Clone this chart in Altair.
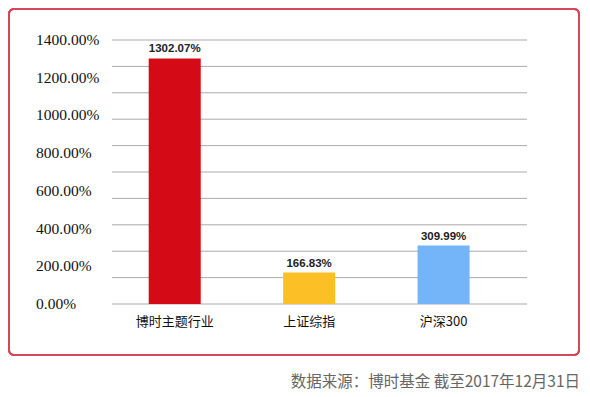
import altair as alt
import pandas as pd

categories = ["博时主题行业", "上证综指", "沪深300"]
values = [1302.07, 166.83, 309.99]
labels = ["1302.07%", "166.83%", "309.99%"]
colors = ["#d40a16", "#fdbf26", "#74b4f9"]
y_ticks = [0, 200, 400, 600, 800, 1000, 1200, 1400]
grid_vals = [0, 140, 280, 420, 560, 700, 840, 980, 1120, 1260, 1400]
footnote = "数据来源：博时基金  截至2017年12月31日"

df = pd.DataFrame({"cat": categories, "val": values, "lab": labels, "color": colors})

xenc = alt.X("cat:N", sort=categories,
             scale=alt.Scale(paddingInner=0.613, paddingOuter=0.35, align=0.39),
             axis=alt.Axis(title=None, labelAngle=0, labelFont="Noto Sans CJK SC",
                           labelFontSize=13, labelColor="#111", domain=False,
                           ticks=False, labelPadding=11))
yscale = alt.Scale(domain=[0, 1400], nice=False)

grid = alt.Chart(pd.DataFrame({"g": grid_vals})).mark_rule(
    color="#aaaaaa", strokeWidth=1
).encode(y=alt.Y("g:Q", scale=yscale, axis=None))

ylabels = alt.Chart(pd.DataFrame({"t": y_ticks})).transform_calculate(
    lab="format(datum.t, '.2f') + '%'"
).mark_text(align="left", baseline="middle", font="Liberation Serif",
            fontSize=15.5, color="#111", clip=False).encode(
    x=alt.value(-76),
    y=alt.Y("t:Q", scale=yscale, axis=None),
    text="lab:N",
)

base = alt.Chart(df)

bars = base.mark_bar().encode(
    x=xenc,
    y=alt.Y("val:Q", scale=yscale, axis=None),
    color=alt.Color("color:N", scale=None),
)

text = base.mark_text(dy=-9, font="Liberation Sans", fontWeight="bold",
                      fontSize=11.5, color="#222").encode(
    x=alt.X("cat:N", sort=categories),
    y=alt.Y("val:Q", scale=yscale, axis=None),
    text="lab:N",
)

border = alt.Chart(df).mark_rect(
    filled=False, stroke="#d5475a", strokeWidth=2, cornerRadius=5, clip=False
).encode(x=alt.value(-103), x2=alt.value(467), y=alt.value(-31), y2=alt.value(315))

foot = alt.Chart(pd.DataFrame({"t": [footnote]})).mark_text(
    align="right", baseline="middle", font="Noto Sans CJK SC", fontSize=15.5,
    color="#666666", clip=False
).encode(x=alt.value(468), y=alt.value(342), text="t:N")

chart = alt.layer(grid, bars, text, ylabels, border, foot).properties(
    width=415, height=264, padding=0
).configure_view(stroke=None)

chart.save("out.html", embed_options={"renderer": "svg", "actions": False})
